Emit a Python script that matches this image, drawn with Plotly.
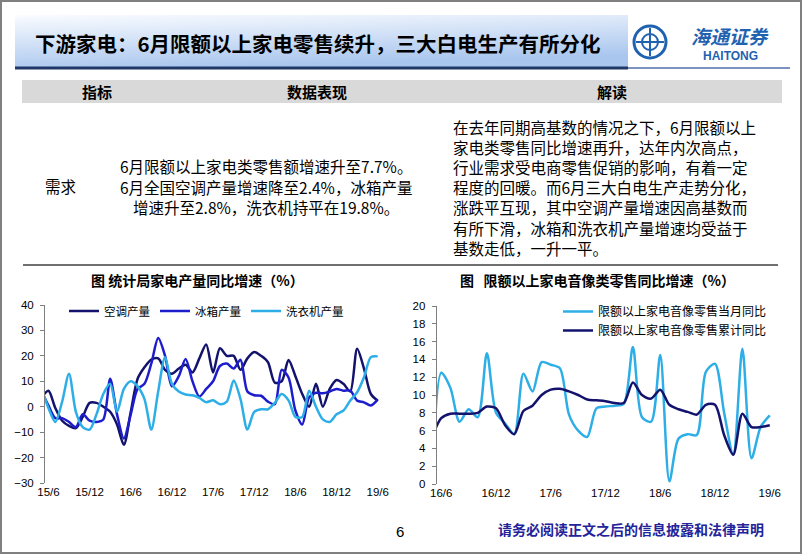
import base64
import plotly.graph_objects as go

W, H = 802, 554
LATIN = "Liberation Sans, Arial, Noto Sans CJK SC"
CJK = "Noto Sans CJK SC, Liberation Sans"

# ---------------- data ----------------
# left chart: monthly production growth (%), 15/5 .. 19/6 (first value = partly visible month)
prod_tick_labels = ["15/6", "15/12", "16/6", "16/12", "17/6", "17/12", "18/6", "18/12", "19/6"]
ac_output = [3.5, 6.3, -0.5, -5.5, -7.5, -8.4, -4, 1.5, 1.5, 0, -2, -7, -15, -2, 11, 15.5,
             18.5, 19, 14.5, 13, 15, 16.5, 13.5, 19, 24.5, 13.5, 23, 20, 20, 14.5, 19, 21.5,
             20, 17.5, 9.5, 10, 18.4, 12, 5, 0, 9, 0, 7, 10.5, 9, 6, 22.8, 15, 5, 2.4]
fridge_output = [6, 0.5, -4.5, -4.5, -6, -8, -3, -5.5, -6, -5, 11, -3, -12.5, -3, 7, 9, 17,
                 27, 20, 8, 12, 18.8, 10, 4, 7, 10, 16, 17, 15, 18.5, 6, 4.5, 4.3, 2, 1, 14.5,
                 11.5, -1.5, -7, 3.7, 5.5, 5.3, 6, 7, 6.3, 6.3, 2.4, 1.7, 0.5, 2.8]
washer_output = [7, -0.5, -6, 2, 13, -2, -8, -9, -3, 5, 9, -2, 7, 10, 8, 3, -9, 6, 19.5, 9,
                 6, 4.8, 4.5, 3.5, 1.8, 2.5, 1, 2, 10.3, 3, -9, -2, -1, -1, 1.5, 5, 2.5, -4,
                 -4, 6.3, 0, -5, -6, -3, -1.5, 2.4, 5.7, 11.6, 19.5, 19.8]
prod_names = ["空调产量", "冰箱产量", "洗衣机产量"]

# right chart: retail sales of appliances & AV (%), 16/5 .. 19/6
retail_tick_labels = ["16/6", "16/12", "17/6", "17/12", "18/6", "18/12", "19/6"]
retail_month = [-1.5, 12.5, 10.8, 7, 8.4, 7.5, 14.7, 8, 6.8, 5.6, 12.4, 10.4, 13.7, 13.4, 13,
                7.8, 6, 5.3, 8.5, 8.7, 8.8, 9, 15.4, 7.5, 7, 14.5, 0.3, 5.1, 5.6, 5.5, 12.6,
                13.5, 8, 3.3, 15.2, 2.9, 6.4, 7.7]
retail_cum = [5.3, 7.4, 7.9, 7.9, 7.9, 8.0, 8.7, 8.5, 6.6, 5.6, 8.2, 8.8, 10, 10.6, 10.7,
              10.4, 10, 9.5, 9.4, 9.3, 9.1, 9.1, 11.4, 10, 9.6, 10.6, 8.9, 8.4, 8.1, 7.8, 8.9,
              8.9, 5.5, 3.3, 7.9, 6.4, 6.4, 6.6]
retail_names = ["限额以上家电音像零售当月同比", "限额以上家电音像零售累计同比"]

# ---------------- styles ----------------
NAVY = "#13136E"
BLUE = "#1D1DCC"
LIGHT = "#2DAEE6"
AXIS = "#7F7F7F"


def fx(px):
    return px / W


def fy(py):
    return 1 - py / H


prod_x = list(range(-1, len(ac_output) - 1))
retail_x = list(range(-1, len(retail_month) - 1))
n_prod = len(ac_output) - 1
n_ret = len(retail_month) - 1

fig = go.Figure()
for name, vals, col in zip(prod_names, [ac_output, fridge_output, washer_output], [NAVY, BLUE, LIGHT]):
    fig.add_trace(go.Scatter(x=prod_x, y=vals, name=name, mode="lines",
                             line=dict(color=col, width=2.5, shape="spline", smoothing=0.8),
                             xaxis="x", yaxis="y", legend="legend", hoverinfo="skip"))
for name, vals, col in zip(retail_names, [retail_month, retail_cum], [LIGHT, NAVY]):
    fig.add_trace(go.Scatter(x=retail_x, y=vals, name=name, mode="lines",
                             line=dict(color=col, width=2.5, shape="spline", smoothing=0.8),
                             xaxis="x2", yaxis="y2", legend="legend2", hoverinfo="skip"))

# left chart geometry
L_dom_x = [fx(45), fx(388)]
L_dom_y = [fy(483), fy(305)]
L_yr = [-30, 40]
zero_pos = L_dom_y[0] + (0 - L_yr[0]) / (L_yr[1] - L_yr[0]) * (L_dom_y[1] - L_dom_y[0])
L_xr = [-0.5, n_prod + 0.5]
# right chart geometry
R_dom_x = [fx(436.7), fx(785)]
R_dom_y = [fy(484), fy(306)]
R_xr = [-0.5, n_ret + 0.67]

tickfont = dict(family=LATIN, size=11.5, color="#000")
common_y = dict(showline=True, linecolor=AXIS, linewidth=1, ticks="outside", ticklen=4,
                tickcolor=AXIS, showgrid=False, zeroline=False, tickfont=tickfont,
                ticklabelstandoff=4)

fig.update_layout(
    template="none", width=W, height=H, margin=dict(l=0, r=0, t=0, b=0),
    paper_bgcolor="white", plot_bgcolor="rgba(0,0,0,0)", showlegend=True,
    xaxis=dict(domain=L_dom_x, range=L_xr, anchor="y", tickvals=[6 * k for k in range(len(prod_tick_labels))],
               ticktext=prod_tick_labels, ticks="", showline=False, showgrid=False, zeroline=False,
               tickfont=tickfont),
    xaxis3=dict(overlaying="x", anchor="free", position=zero_pos, range=L_xr,
                tickvals=[6 * k - 0.5 for k in range(len(prod_tick_labels))],
                showticklabels=False, ticks="outside", ticklen=4, tickcolor=AXIS,
                showline=True, linecolor=AXIS, linewidth=1, showgrid=False, zeroline=False),
    yaxis=dict(domain=L_dom_y, range=L_yr, dtick=10, anchor="x", **common_y),
    xaxis2=dict(domain=R_dom_x, range=R_xr, anchor="y2", tickvals=[6 * k for k in range(len(retail_tick_labels))],
                ticktext=retail_tick_labels, ticks="", showline=False, showgrid=False, zeroline=False,
                tickfont=tickfont),
    xaxis4=dict(overlaying="x2", anchor="y2", range=R_xr,
                tickvals=[6 * k - 0.5 for k in range(len(retail_tick_labels))],
                showticklabels=False, ticks="outside", ticklen=4, tickcolor=AXIS,
                showline=True, linecolor=AXIS, linewidth=1, showgrid=False, zeroline=False),
    yaxis2=dict(domain=R_dom_y, range=[0, 20], dtick=2, anchor="x2", **common_y),
    legend=dict(orientation="h", x=fx(64), y=fy(311), xanchor="left", yanchor="middle",
                font=dict(family=CJK, size=11.5, color="#000"), bgcolor="rgba(0,0,0,0)",
                itemwidth=30, tracegroupgap=0),
    legend2=dict(orientation="v", x=fx(558), y=fy(297), xanchor="left", yanchor="top",
                 font=dict(family=CJK, size=12, color="#000"), bgcolor="rgba(0,0,0,0)",
                 itemwidth=30, tracegroupgap=0),
)

# ---------------- banner gradient ----------------
svg = ('<svg xmlns="http://www.w3.org/2000/svg" width="613" height="52">'
       '<defs><linearGradient id="g" x1="0" y1="0" x2="0.35" y2="1">'
       '<stop offset="0" stop-color="#FAFCFF"/><stop offset="1" stop-color="#A9C6EE"/>'
       '</linearGradient></defs><rect width="613" height="52" fill="url(#g)"/></svg>')
src = "data:image/svg+xml;base64," + base64.b64encode(svg.encode()).decode()
fig.add_layout_image(dict(source=src, xref="paper", yref="paper", x=fx(15), y=fy(15),
                          sizex=fx(613), sizey=52 / H, sizing="stretch", xanchor="left",
                          yanchor="top", layer="below"))

shapes = []


def rect(x0, y0, x1, y1, fill=None, line=None, lw=0):
    shapes.append(dict(type="rect", xref="paper", yref="paper", x0=fx(x0), x1=fx(x1),
                       y0=fy(y1), y1=fy(y0), fillcolor=fill or "rgba(0,0,0,0)",
                       line=dict(color=line or "rgba(0,0,0,0)", width=lw), layer="below"))


def hline(x0, x1, y, color, lw):
    shapes.append(dict(type="line", xref="paper", yref="paper", x0=fx(x0), x1=fx(x1),
                       y0=fy(y), y1=fy(y), line=dict(color=color, width=lw)))


rect(1, 1, 801, 553, line="#808080", lw=2)
hline(15, 628, 68, "#1F3868", 3)
hline(628, 790, 68, "#4F6FA8", 1.5)
rect(22, 80, 782, 103, fill="#D9D9D9")
hline(23, 778, 265, "#404040", 1.5)
# logo
shapes.append(dict(type="circle", xref="paper", yref="paper", x0=fx(634), x1=fx(666),
                   y0=fy(58), y1=fy(26), line=dict(color="#1F62B0", width=3)))
shapes.append(dict(type="circle", xref="paper", yref="paper", x0=fx(642), x1=fx(658),
                   y0=fy(50), y1=fy(34), line=dict(color="#1F62B0", width=2)))
shapes.append(dict(type="line", xref="paper", yref="paper", x0=fx(636), x1=fx(664),
                   y0=fy(42), y1=fy(42), line=dict(color="#1F62B0", width=2)))
shapes.append(dict(type="line", xref="paper", yref="paper", x0=fx(650), x1=fx(650),
                   y0=fy(28), y1=fy(56), line=dict(color="#1F62B0", width=2)))
fig.update_layout(shapes=shapes)

ann = []


def txt(s, px, py, size, color="#000", xanchor="center", family=CJK):
    ann.append(dict(text=s, x=fx(px), y=fy(py), xref="paper", yref="paper", xanchor=xanchor,
                    yanchor="middle", showarrow=False, font=dict(size=size, color=color, family=family)))


txt("<b>下游家电：6月限额以上家电零售续升，三大白电生产有所分化</b>", 33, 43, 20.5, xanchor="left")
txt("<b><i>海通证券</i></b>", 730, 35, 19, color="#1F62B0")
txt("<b>HAITONG</b>", 730, 56, 12, color="#1F62B0", family=LATIN)
txt("<b>指标</b>", 97, 91.5, 15)
txt("<b>数据表现</b>", 317, 91.5, 15)
txt("<b>解读</b>", 612, 91.5, 15)
txt("需求", 60, 186, 15.5)
mid_lines = ["6月限额以上家电类零售额增速升至7.7%。",
             "6月全国空调产量增速降至2.4%，冰箱产量",
             "增速升至2.8%，洗衣机持平在19.8%。"]
for k, s in enumerate(mid_lines):
    txt(s, 266, 166.3 + 20.2 * k, 15.5)
right_lines = ["在去年同期高基数的情况之下，6月限额以上",
               "家电类零售同比增速再升，达年内次高点，",
               "行业需求受电商零售促销的影响，有着一定",
               "程度的回暖。而6月三大白电生产走势分化，",
               "涨跌平互现，其中空调产量增速因高基数而",
               "有所下滑，冰箱和洗衣机产量增速均受益于",
               "基数走低，一升一平。"]
for k, s in enumerate(right_lines):
    txt(s, 451, 127 + 20.1 * k, 15.5, xanchor="left")
txt("<b>图 统计局家电产量同比增速（%）</b>", 197, 280, 14)
txt("<b>图   限额以上家电音像类零售同比增速（%）</b>", 597, 280, 14)
txt("6", 400, 531, 15, family=LATIN)
txt("<b>请务必阅读正文之后的信息披露和法律声明</b>", 631, 529, 14, color="#23239A")
fig.update_layout(annotations=ann)

fig.write_html("out.html", config={"displayModeBar": False},
               post_script="document.body.style.margin='0';document.body.style.overflow='hidden';")
